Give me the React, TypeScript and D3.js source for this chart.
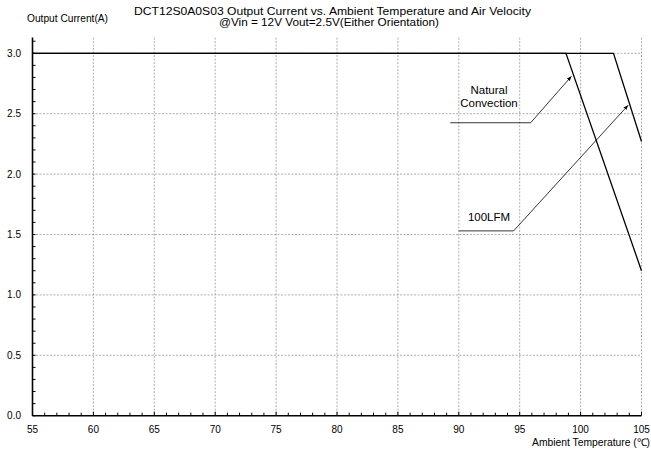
import React from "react";
import * as d3 from "d3";

const xTicks = [55, 60, 65, 70, 75, 80, 85, 90, 95, 100, 105];
const yTicks = [0.0, 0.5, 1.0, 1.5, 2.0, 2.5, 3.0];
const naturalTemp = [55, 98.8, 105];
const naturalCurrent = [3.0, 3.0, 1.2];
const lfmTemp = [55, 102.7, 105];
const lfmCurrent = [3.0, 3.0, 2.27];
const naturalLeader = [[89.3, 2.425], [95.9, 2.425], [99.25, 2.81]];
const lfmLeader = [[90.0, 1.53], [94.5, 1.53], [103.9, 2.57]];

const W = 651, H = 450;
const x = d3.scaleLinear().domain([55, 105]).range([32.5, 641.5]);
const y = d3.scaleLinear().domain([0, 3]).range([415.7, 53.3]);
const font = "Liberation Sans, Arial, sans-serif";

export default function App() {
  const line = d3.line<[number, number]>().x(d => x(d[0])).y(d => y(d[1]));
  const nat = naturalTemp.map((t, i) => [t, naturalCurrent[i]] as [number, number]);
  const lfm = lfmTemp.map((t, i) => [t, lfmCurrent[i]] as [number, number]);
  const minorX = d3.range(55, 105.01, 1);
  const minorY = d3.range(0, 3.11, 0.1);
  const yTop = y(3.13);
  return (
    <svg width={W} height={H} style={{ position: "absolute", left: 0, top: 0, background: "#fff" }} fontFamily={font}>
      <defs>
        <marker id="arr" viewBox="0 0 10 10" refX="10" refY="5" markerWidth="6" markerHeight="6" orient="auto">
          <path d="M0,1 L10,5 L0,9 z" fill="#000" />
        </marker>
      </defs>
      {/* grid */}
      {xTicks.slice(1).map(t => (
        <line key={"gx" + t} x1={x(t)} x2={x(t)} y1={yTop} y2={y(0)} stroke="#999" strokeWidth={0.8} strokeDasharray="2,1.5" />
      ))}
      {yTicks.slice(1).map(t => (
        <line key={"gy" + t} x1={x(55)} x2={x(105)} y1={y(t)} y2={y(t)} stroke="#999" strokeWidth={0.8} strokeDasharray="2,1.5" />
      ))}
      {/* minor ticks */}
      {minorX.map(t => (
        <line key={"mx" + t} x1={x(t)} x2={x(t)} y1={y(0)} y2={y(0) - (t % 5 === 0 ? 4 : 3)} stroke="#000" strokeWidth={1} />
      ))}
      {minorY.map(t => (
        <line key={"my" + t} x1={x(55)} x2={x(55) + 3} y1={y(t)} y2={y(t)} stroke="#000" strokeWidth={1} />
      ))}
      {/* axes */}
      <line x1={x(55)} x2={x(55)} y1={yTop} y2={y(0)} stroke="#000" strokeWidth={1.6} />
      <line x1={x(55)} x2={x(105)} y1={y(0)} y2={y(0)} stroke="#000" strokeWidth={1.6} />
      {/* data */}
      <path d={line(lfm) || ""} fill="none" stroke="#000" strokeWidth={1.3} />
      <path d={line(nat) || ""} fill="none" stroke="#000" strokeWidth={1.3} />
      {/* leaders */}
      <path d={line(naturalLeader as [number, number][]) || ""} fill="none" stroke="#000" strokeWidth={0.8} markerEnd="url(#arr)" />
      <path d={line(lfmLeader as [number, number][]) || ""} fill="none" stroke="#000" strokeWidth={0.8} markerEnd="url(#arr)" />
      <text x={489} y={94} fontSize={11.5} textAnchor="middle">Natural</text>
      <text x={489} y={107} fontSize={11.5} textAnchor="middle">Convection</text>
      <text x={489} y={221} fontSize={11.5} textAnchor="middle">100LFM</text>
      {/* tick labels */}
      {yTicks.map(t => (
        <text key={"yl" + t} x={21} y={y(t) + 3.5} fontSize={10} textAnchor="end">{d3.format(".1f")(t)}</text>
      ))}
      {xTicks.map(t => (
        <text key={"xl" + t} x={x(t)} y={433} fontSize={10} textAnchor="middle">{t}</text>
      ))}
      {/* titles */}
      <text x={134} y={15} fontSize={11.5} textLength={397} lengthAdjust="spacingAndGlyphs">DCT12S0A0S03 Output Current vs. Ambient Temperature and Air Velocity</text>
      <text x={219} y={26} fontSize={11.5} textLength={220} lengthAdjust="spacingAndGlyphs">@Vin = 12V Vout=2.5V(Either Orientation)</text>
      <text x={27} y={21.5} fontSize={10} textLength={81} lengthAdjust="spacingAndGlyphs">Output Current(A)</text>
      <text x={532} y={446} fontSize={10.5} textLength={118} lengthAdjust="spacingAndGlyphs">Ambient Temperature (℃)</text>
    </svg>
  );
}
